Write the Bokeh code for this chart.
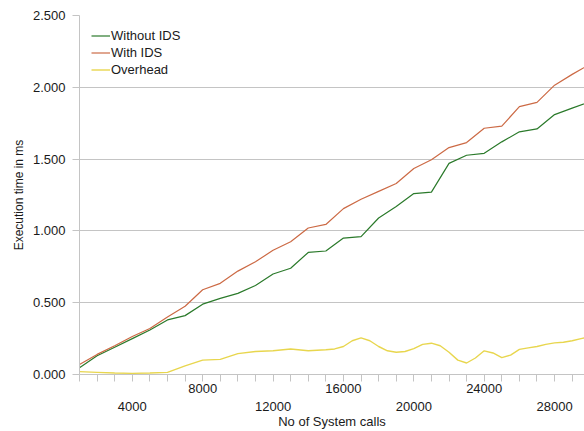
from bokeh.plotting import figure
from bokeh.models import FixedTicker, LinearAxis, Range1d, NumeralTickFormatter, Legend, LegendItem
from bokeh.embed import file_html
from bokeh.resources import INLINE

# ---- data ----
calls = [1000, 2000, 3000, 4000, 5000, 6000, 7000, 8000, 9000, 10000,
         11000, 12000, 13000, 14000, 15000, 16000, 17000, 18000, 19000, 20000,
         21000, 22000, 23000, 24000, 25000, 26000, 27000, 28000, 29000, 30000]
without_ids = [0.047, 0.13, 0.19, 0.25, 0.31, 0.38, 0.41, 0.49, 0.53, 0.565,
               0.62, 0.70, 0.74, 0.85, 0.86, 0.95, 0.96, 1.09, 1.17, 1.26,
               1.27, 1.47, 1.527, 1.54, 1.62, 1.69, 1.71, 1.81, 1.855, 1.90]
with_ids = [0.069, 0.14, 0.20, 0.265, 0.32, 0.40, 0.475, 0.59, 0.635, 0.72,
            0.785, 0.865, 0.925, 1.02, 1.045, 1.155, 1.22, 1.275, 1.33, 1.435,
            1.495, 1.58, 1.615, 1.715, 1.73, 1.865, 1.895, 2.015, 2.09, 2.16]
overhead_calls = [1000, 2000, 3000, 4000, 5000, 6000, 7000, 8000, 9000, 10000,
                  11000, 12000, 13000, 14000, 15000, 15500, 16000, 16500, 17000, 17500,
                  18000, 18500, 19000, 19500, 20000, 20500, 21000, 21500, 22000, 22500,
                  23000, 23500, 24000, 24500, 25000, 25500, 26000, 26500, 27000, 27500,
                  28000, 28500, 29000, 29500, 30000]
overhead = [0.02, 0.015, 0.01, 0.008, 0.01, 0.015, 0.06, 0.10, 0.105, 0.145,
            0.16, 0.165, 0.178, 0.165, 0.172, 0.178, 0.195, 0.235, 0.255, 0.235,
            0.195, 0.165, 0.155, 0.16, 0.18, 0.21, 0.218, 0.20, 0.155, 0.10,
            0.08, 0.115, 0.165, 0.15, 0.118, 0.135, 0.175, 0.185, 0.195, 0.21,
            0.22, 0.225, 0.235, 0.25, 0.262]
y_ticks = [0.0, 0.5, 1.0, 1.5, 2.0, 2.5]
x_minor_ticks = list(range(1000, 30000, 1000))
x_labels_upper = [8000, 16000, 24000]
x_labels_lower = [4000, 12000, 20000, 28000]

FONT = "Liberation Sans"
GRID = "#c4c4c4"
TXT = "#1a1a1a"

p = figure(width=584, height=431, output_backend="svg", toolbar_location=None,
           x_range=Range1d(1000, 29700), y_range=Range1d(0, 2.5),
           x_axis_location=None, y_axis_location=None)
p.min_border_left = 79
p.min_border_top = 15
p.min_border_right = 0
p.min_border_bottom = 0
p.outline_line_color = None
p.background_fill_color = "white"
p.border_fill_color = "white"

r1 = p.line(calls, without_ids, line_color="#2b7a2b", line_width=1.2)
r2 = p.line(calls, with_ids, line_color="#cc6a45", line_width=1.2)
r3 = p.line(overhead_calls, overhead, line_color="#e8d64e", line_width=1.4)

# y axis
ya = LinearAxis(ticker=FixedTicker(ticks=y_ticks), axis_label="Execution time in ms")
ya.formatter = NumeralTickFormatter(format="0.000")
ya.axis_line_color = GRID
ya.major_tick_line_color = GRID
ya.major_tick_out = 7
ya.major_tick_in = 0
ya.minor_tick_line_color = None
ya.major_label_standoff = 7
ya.major_label_text_font = FONT
ya.major_label_text_font_size = "13px"
ya.major_label_text_color = TXT
ya.axis_label_text_font = FONT
ya.axis_label_text_font_size = "12px"
ya.axis_label_text_font_style = "normal"
ya.axis_label_text_color = TXT
ya.axis_label_standoff = 4
p.add_layout(ya, "left")

# x axis: ticks every 1000, upper row labels
xa1 = LinearAxis(ticker=FixedTicker(ticks=x_minor_ticks))
xa1.major_label_overrides = {t: (str(t) if t in x_labels_upper else "") for t in x_minor_ticks}
xa1.axis_line_color = GRID
xa1.major_tick_line_color = GRID
xa1.major_tick_out = 7
xa1.major_tick_in = 0
xa1.minor_tick_line_color = None
xa1.major_label_standoff = 2
xa1.major_label_text_font = FONT
xa1.major_label_text_font_size = "13px"
xa1.major_label_text_color = TXT
p.add_layout(xa1, "below")

# x axis: lower row labels
xa2 = LinearAxis(ticker=FixedTicker(ticks=x_labels_lower), axis_label="No of System calls")
xa2.major_label_overrides = {t: str(t) for t in x_labels_lower}
xa2.axis_line_color = None
xa2.major_tick_line_color = None
xa2.minor_tick_line_color = None
xa2.major_label_standoff = 0
xa2.major_label_text_font = FONT
xa2.major_label_text_font_size = "13px"
xa2.major_label_text_color = TXT
xa2.axis_label_text_font = FONT
xa2.axis_label_text_font_size = "13px"
xa2.axis_label_text_font_style = "normal"
xa2.axis_label_text_color = TXT
xa2.axis_label_standoff = 0
p.add_layout(xa2, "below")

p.xgrid.visible = False
p.ygrid.ticker = FixedTicker(ticks=y_ticks)
p.ygrid.grid_line_color = GRID
p.ygrid.grid_line_width = 1

legend = Legend(items=[
    LegendItem(label="Without IDS", renderers=[r1]),
    LegendItem(label="With IDS", renderers=[r2]),
    LegendItem(label="Overhead", renderers=[r3]),
], location="top_left")
legend.border_line_color = None
legend.background_fill_alpha = 0
legend.label_text_font = FONT
legend.label_text_font_size = "13px"
legend.label_text_color = TXT
legend.glyph_width = 19
legend.glyph_height = 17
legend.label_height = 17
legend.label_standoff = 1
legend.spacing = 0
legend.padding = 0
legend.margin = 12
p.add_layout(legend)

open("out.html", "w").write(file_html(p, INLINE))
